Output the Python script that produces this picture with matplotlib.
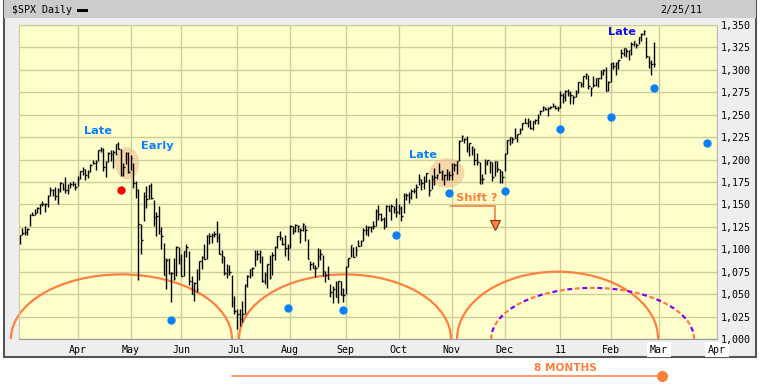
import numpy as np
import pandas as pd
import matplotlib
matplotlib.use("Agg")
import matplotlib.pyplot as plt
import matplotlib.transforms as mtransforms
from matplotlib.patches import Arc, Ellipse, Rectangle

# daily bars of $SPX, 1 Mar 2010 .. 25 Feb 2011
highs = [
    1116.0, 1123.5, 1125.6, 1123.7, 1139.4, 1141.1, 1145.4, 1147.4, 1150.2, 1153.4,
    1151.4, 1160.3, 1169.8, 1167.3, 1169.2, 1167.8, 1174.7, 1174.0, 1180.7, 1173.0,
    1174.9, 1175.7, 1174.1,
    1181.4, 1187.7, 1191.8, 1189.6, 1188.6, 1194.7, 1199.2, 1199.0, 1210.7, 1213.9,
    1213.3, 1197.9, 1208.5, 1210.9, 1210.3, 1217.3, 1219.8, 1211.4, 1195.9, 1207.9, 1208.0,
    1205.1, 1196.0, 1175.9, 1167.6, 1127.8, 1163.8, 1170.5, 1172.0, 1173.6, 1155.0,
    1141.9, 1148.7, 1124.3, 1106.7, 1090.2, 1089.9, 1074.4, 1090.8, 1103.5, 1102.8,
    1094.8, 1098.4, 1105.7, 1098.6, 1069.9, 1063.0, 1077.7, 1087.0, 1092.0, 1105.9,
    1115.6, 1117.7, 1118.7, 1120.7, 1131.2, 1118.5, 1099.6, 1093.0, 1083.6, 1082.6,
    1071.4, 1048.1,
    1033.6, 1032.9, 1042.5, 1060.9, 1071.3, 1078.2, 1080.8, 1099.1, 1099.5, 1099.7,
    1093.0, 1074.7, 1083.9, 1093.9, 1097.5, 1103.7, 1115.0, 1120.0, 1114.0, 1115.7, 1106.4,
    1127.3, 1125.4, 1128.5, 1126.6, 1124.0, 1129.2, 1127.2, 1111.4, 1086.7, 1085.8,
    1082.6, 1101.7, 1099.8, 1093.2, 1075.6, 1081.6, 1061.8, 1059.4, 1064.4, 1065.2,
    1064.3, 1056.9,
    1081.3, 1090.1, 1105.1, 1102.6, 1103.3, 1110.9, 1110.3, 1124.2, 1127.4, 1126.5,
    1125.6, 1131.5, 1144.4, 1148.9, 1140.0, 1136.1, 1148.9, 1149.9, 1150.0, 1148.6, 1157.2,
    1150.3, 1148.2, 1162.8, 1162.3, 1163.9, 1167.7, 1168.7, 1173.0, 1184.4, 1178.7,
    1181.8, 1185.5, 1178.4, 1182.9, 1191.0, 1183.9, 1196.1, 1187.9, 1183.7, 1189.5, 1187.1,
    1195.8, 1195.9, 1198.3, 1221.3, 1227.1, 1224.6, 1226.8, 1218.8, 1215.5, 1213.0,
    1207.4, 1197.8, 1183.6, 1200.8, 1200.0, 1198.9, 1197.8, 1198.9, 1198.4, 1189.4, 1187.4,
    1207.6, 1221.5, 1225.6, 1225.6, 1235.1, 1228.9, 1234.7, 1240.4, 1246.7, 1246.7,
    1244.3, 1243.2, 1245.6, 1250.4, 1255.0, 1259.4, 1258.6, 1259.1, 1259.9, 1262.6,
    1261.0, 1259.3,
    1276.2, 1274.1, 1277.6, 1278.2, 1276.2, 1271.5, 1277.6, 1286.3, 1286.7, 1293.2,
    1296.1, 1294.6, 1281.1, 1293.3, 1291.3, 1291.3, 1299.7, 1301.3, 1302.7, 1287.2,
    1308.1, 1308.6, 1308.6, 1311.0, 1322.9, 1324.9, 1324.6, 1322.0, 1330.8, 1332.6,
    1330.4, 1337.0, 1341.5, 1344.1, 1336.1, 1316.0, 1311.0, 1331.0,
]
lows = [
    1105.4, 1116.0, 1116.1, 1116.1, 1125.4, 1138.0, 1138.0, 1141.0, 1138.8, 1148.7,
    1141.6, 1147.1, 1159.5, 1159.1, 1155.3, 1150.7, 1163.8, 1165.8, 1163.2, 1161.4,
    1167.8, 1170.7, 1165.8,
    1170.7, 1178.1, 1182.8, 1177.3, 1179.2, 1186.4, 1194.7, 1188.8, 1198.9, 1208.5,
    1186.8, 1180.3, 1197.5, 1198.9, 1190.2, 1205.1, 1211.3, 1181.6, 1181.6, 1195.0, 1185.5,
    1188.6, 1168.1, 1157.2, 1065.8, 1094.2, 1131.3, 1146.0, 1155.8, 1156.1, 1126.0,
    1114.6, 1117.2, 1100.7, 1071.6, 1055.9, 1072.7, 1040.8, 1065.6, 1069.7, 1084.1,
    1069.9, 1070.7, 1091.8, 1060.5, 1050.5, 1042.2, 1052.3, 1065.6, 1077.5, 1089.0,
    1089.6, 1105.9, 1107.1, 1113.8, 1108.2, 1094.9, 1085.0, 1071.1, 1067.9, 1071.4,
    1035.2, 1028.3,
    1010.9, 1015.0, 1018.4, 1028.1, 1058.2, 1068.1, 1070.4, 1081.0, 1087.7, 1084.5,
    1063.3, 1061.1, 1056.9, 1066.6, 1071.3, 1087.9, 1101.6, 1109.8, 1104.6, 1092.2, 1088.0,
    1101.6, 1116.8, 1119.5, 1118.8, 1107.2, 1120.9, 1109.2, 1088.7, 1076.7, 1079.0,
    1069.6, 1080.0, 1088.0, 1070.0, 1063.6, 1067.1, 1046.7, 1039.8, 1046.7, 1039.7,
    1048.9, 1040.9,
    1049.7, 1080.4, 1091.1, 1091.2, 1092.0, 1103.9, 1103.9, 1109.6, 1115.6, 1114.6,
    1118.9, 1122.4, 1125.6, 1132.3, 1131.9, 1122.8, 1125.0, 1142.2, 1132.1, 1140.3, 1136.1,
    1139.4, 1131.9, 1140.0, 1154.8, 1151.4, 1155.7, 1162.8, 1157.5, 1171.3, 1166.4,
    1167.1, 1174.6, 1159.7, 1166.7, 1171.2, 1178.3, 1184.7, 1177.7, 1171.5, 1177.1, 1177.7,
    1177.7, 1187.0, 1183.6, 1198.3, 1220.3, 1218.7, 1208.9, 1204.3, 1204.6, 1194.1,
    1193.5, 1173.0, 1173.0, 1184.3, 1194.1, 1184.9, 1176.4, 1181.2, 1186.2, 1173.6, 1174.1,
    1187.0, 1206.1, 1216.2, 1218.7, 1223.8, 1219.5, 1228.2, 1232.8, 1240.4, 1236.4,
    1233.8, 1232.7, 1239.9, 1239.3, 1249.4, 1254.2, 1254.8, 1248.3, 1256.3, 1258.5,
    1256.1, 1254.2,
    1257.6, 1262.7, 1265.4, 1270.4, 1262.2, 1262.3, 1269.6, 1274.5, 1280.5, 1281.1,
    1290.2, 1278.2, 1271.3, 1280.7, 1282.0, 1281.1, 1289.3, 1294.4, 1275.9, 1276.3,
    1286.2, 1301.0, 1294.8, 1301.0, 1312.8, 1316.0, 1314.6, 1311.2, 1316.4, 1326.9,
    1324.6, 1329.0, 1331.8, 1338.5, 1312.9, 1302.4, 1294.0, 1303.0,
]
closes = [
    1115.7, 1118.3, 1118.8, 1123.0, 1138.7, 1138.5, 1140.5, 1145.6, 1150.2, 1150.0,
    1150.5, 1159.5, 1166.2, 1165.8, 1159.9, 1165.8, 1174.2, 1167.7, 1165.7, 1166.6,
    1173.2, 1173.3, 1169.4,
    1178.1, 1187.4, 1189.4, 1182.5, 1186.4, 1194.4, 1196.5, 1197.3, 1210.7, 1211.7,
    1192.1, 1197.5, 1207.2, 1205.9, 1208.7, 1217.3, 1212.1, 1183.7, 1191.4, 1206.8, 1186.7,
    1202.3, 1173.6, 1165.9, 1128.2, 1110.9, 1159.7, 1155.8, 1171.7, 1157.4, 1135.7,
    1136.9, 1120.8, 1115.1, 1071.6, 1087.7, 1073.7, 1074.0, 1068.0, 1103.1, 1089.4,
    1070.7, 1098.4, 1102.8, 1064.9, 1050.5, 1062.0, 1055.7, 1086.8, 1091.6, 1089.6,
    1115.2, 1114.6, 1116.0, 1117.5, 1113.2, 1095.3, 1092.0, 1073.7, 1076.8, 1074.6,
    1041.2, 1030.7,
    1027.4, 1022.6, 1028.1, 1060.3, 1070.3, 1078.0, 1078.8, 1095.3, 1095.2, 1096.5,
    1064.9, 1071.3, 1083.5, 1069.6, 1093.7, 1102.7, 1115.0, 1113.8, 1106.1, 1101.5, 1101.6,
    1125.9, 1120.5, 1127.2, 1125.8, 1121.6, 1127.8, 1121.1, 1089.5, 1083.6, 1079.3,
    1079.4, 1092.5, 1094.2, 1075.6, 1071.7, 1067.4, 1051.9, 1055.3, 1047.2, 1064.6,
    1048.9, 1049.3,
    1080.3, 1090.1, 1104.5, 1091.8, 1098.9, 1104.2, 1109.6, 1121.9, 1121.1, 1125.1,
    1124.7, 1125.6, 1142.7, 1139.8, 1134.3, 1124.8, 1148.7, 1142.2, 1147.7, 1144.7, 1141.2,
    1146.2, 1137.0, 1160.8, 1160.0, 1158.1, 1165.2, 1165.3, 1169.8, 1178.1, 1173.8,
    1176.2, 1184.7, 1165.9, 1178.2, 1180.3, 1183.1, 1185.6, 1185.6, 1182.5, 1183.8, 1183.3,
    1184.4, 1193.6, 1198.0, 1221.1, 1225.9, 1223.3, 1213.4, 1218.7, 1213.5, 1199.2,
    1197.8, 1178.3, 1178.6, 1196.7, 1199.7, 1197.8, 1180.7, 1198.4, 1189.4, 1187.8, 1180.6,
    1206.1, 1221.5, 1224.7, 1223.1, 1223.8, 1228.3, 1233.0, 1240.4, 1240.5, 1241.6,
    1235.2, 1242.9, 1243.9, 1247.1, 1254.6, 1258.8, 1256.8, 1257.5, 1258.5, 1259.8,
    1257.9, 1257.6,
    1271.9, 1270.2, 1276.6, 1273.9, 1271.5, 1269.8, 1274.5, 1286.0, 1283.8, 1293.2,
    1295.0, 1281.9, 1280.3, 1283.4, 1290.8, 1291.2, 1296.6, 1299.5, 1276.3, 1286.1,
    1307.6, 1304.0, 1307.1, 1310.9, 1319.1, 1324.6, 1320.9, 1321.9, 1329.2, 1332.3,
    1328.0, 1336.3, 1340.4, 1343.0, 1315.4, 1307.4, 1306.1, 1306.0,
]

# market holidays in the chart span
holidays = ['2010-04-02', '2010-05-31', '2010-07-05', '2010-09-06', '2010-11-25',
            '2010-12-24', '2011-01-17', '2011-02-21']

# cycle marker dots
dot_dates = ['2010-05-25', '2010-07-30', '2010-08-31', '2010-09-30', '2010-10-29',
             '2010-12-01', '2011-01-03', '2011-02-01', '2011-02-25', '2011-03-28']
dot_values = [1021, 1034, 1032, 1116, 1163, 1165, 1234, 1248, 1280, 1218]
red_date = '2010-04-27'
red_value = 1166

# cycle arcs (bar positions) and their heights
cycle_start = [-3.5, 86.8, 173.1]
cycle_end = [84.0, 170.7, 252.7]
cycle_top = [1072, 1072, 1075]
proj_start, proj_end, proj_top = 186.6, 266.9, 1057

month_names = ['Apr', 'May', 'Jun', 'Jul', 'Aug', 'Sep', 'Oct', 'Nov', 'Dec',
               '11', 'Feb', 'Mar', 'Apr']

# trading-day calendar -> bar position
days = pd.bdate_range('2010-03-01', '2011-04-01')
days = days[~days.isin(pd.to_datetime(holidays))]
pos = pd.Series(np.arange(len(days)), index=days)
n = len(closes)
x = np.arange(n)

ORANGE = '#FF8040'
BLUE = '#0A80FF'
GRID = '#CCCC99'
MONO = 'DejaVu Sans Mono'

fig = plt.figure(figsize=(7.65, 3.9), dpi=100)
fig.patch.set_facecolor('white')
W, H = 765.0, 390.0

# panel + header
fig.add_artist(Rectangle((4 / W, 33 / H), 752 / W, 357 / H, transform=fig.transFigure,
                         fc='#EEEEEE', ec='#555555', lw=1.5, zorder=-5))
fig.add_artist(Rectangle((4 / W, 372 / H), 752 / W, 18 / H, transform=fig.transFigure,
                         fc='#CCCCCC', ec='none', zorder=-4))
fig.text(12 / W, 1 - 10 / H, r'\$SPX Daily', family=MONO, fontsize=7.2, va='center')
fig.add_artist(Rectangle((77 / W, 1 - 12 / H), 11 / W, 3 / H, transform=fig.transFigure,
                         fc='black', ec='none'))
fig.text(702 / W, 1 - 10 / H, '2/25/11', family=MONO, fontsize=7.2, va='center', ha='right')

ax = fig.add_axes([19 / W, 51 / H, 698 / W, 314 / H])
ax.set_facecolor('#FFFFCC')
ax.set_xlim(-0.3, pos[pd.Timestamp('2011-04-01')])
ax.set_ylim(1000, 1350)

# grid
yt = np.arange(1000, 1351, 25)
month_first = days.to_series().groupby([days.year, days.month]).first().values[1:]
xt = [pos[pd.Timestamp(d)] for d in month_first]
for v in yt:
    ax.axhline(v, color=GRID, lw=1, zorder=0)
for v in xt:
    ax.axvline(v, color=GRID, lw=1, zorder=0)

ax.yaxis.tick_right()
ax.set_yticks(yt)
ax.set_yticklabels([f'{v:,}' for v in yt], family=MONO, fontsize=7.2)
ax.set_xticks(xt)
ax.set_xticklabels(month_names, family=MONO, fontsize=7.2)
ax.tick_params(axis='both', length=0)
ax.tick_params(axis='y', pad=3)
ax.tick_params(axis='x', pad=4)
for lab in ax.get_xticklabels()[-2:]:
    lab.set_bbox(dict(fc='white', ec='none', pad=2))
for side, c in [('left', GRID), ('top', GRID), ('bottom', '#999999'), ('right', '#BBBBBB')]:
    ax.spines[side].set_color(c)

# highlight blobs
ax.add_patch(Ellipse((42.5, 1196), 9.5, 36, fc='#F0B88C', ec='none', alpha=0.55, zorder=1))
ax.add_patch(Ellipse((169.1, 1185), 13.9, 33, fc='#F0B88C', ec='none', alpha=0.55, zorder=1))

# cycle arcs
for s, e, t in zip(cycle_start, cycle_end, cycle_top):
    ax.add_patch(Arc(((s + e) / 2, 1000), e - s, 2 * (t - 1000), theta1=0, theta2=180,
                     color=ORANGE, lw=1.6, zorder=2, clip_on=False))
# projected cycle: alternating orange / purple dashes
for col, ls in [(ORANGE, (0, (2.2, 4.6))), ('#8000F0', (3.4, (2.2, 4.6)))]:
    ax.add_patch(Arc(((proj_start + proj_end) / 2, 1000), proj_end - proj_start,
                     2 * (proj_top - 1000), theta1=0, theta2=180,
                     color=col, lw=1.6, ls=ls, zorder=2))

# price bars
ax.vlines(x, lows, highs, color='black', lw=1.0, zorder=3)
ax.hlines(closes, x, x + 0.6, color='black', lw=1.0, zorder=3)

# cycle dots
dx = [pos[pd.Timestamp(d)] for d in dot_dates]
ax.plot(dx, dot_values, 'o', color=BLUE, ms=5, zorder=4)
ax.plot(pos[pd.Timestamp(red_date)], red_value, 'o', color='red', ms=5, zorder=4)

# labels
bold = dict(fontweight='bold', fontsize=8.2, ha='center', va='center', zorder=5)
ax.text(31, 1232, 'Late', color=BLUE, **bold)
ax.text(54.3, 1215, 'Early', color=BLUE, **bold)
ax.text(159.6, 1205, 'Late', color=BLUE, **bold)
ax.text(238.4, 1342, 'Late', color='#1010F0', **bold)
ax.text(181, 1157, 'Shift ?', color=ORANGE, **bold)
ax.plot([170.7, 188.1, 188.1], [1148, 1148, 1129], color=ORANGE, lw=1.2, zorder=5)
ax.plot(188.1, 1127, 'v', ms=7, mfc=ORANGE, mec='#7A3A1A', mew=0.8, zorder=5)

# 8 months span under the chart
tr = mtransforms.blended_transform_factory(ax.transData, ax.transAxes)
x0, x1 = pos[pd.Timestamp('2010-06-29')], pos[pd.Timestamp('2011-03-02')] + 0.3
ax.plot([x0, x1], [-0.118, -0.118], color=ORANGE, lw=1.1, transform=tr, clip_on=False)
ax.plot([x1], [-0.118], 'o', color=ORANGE, ms=7, transform=tr, clip_on=False)
ax.text(215.9, -0.092, '8 MONTHS', color=ORANGE, fontweight='bold', fontsize=7.6,
        ha='center', va='center', transform=tr, clip_on=False)

fig.savefig('out.png', dpi=100)
